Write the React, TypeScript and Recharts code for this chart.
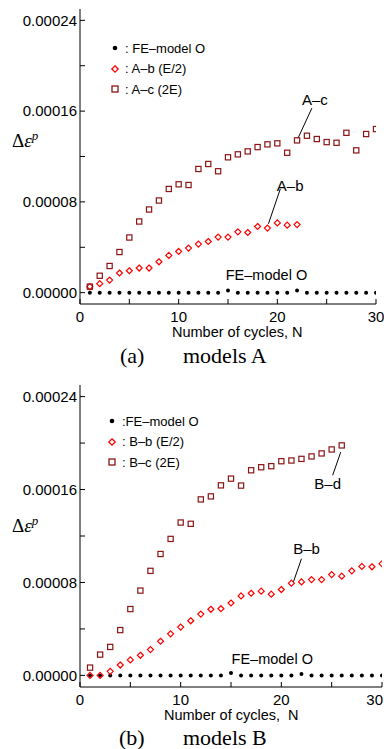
import React from "react"
import {
  ScatterChart,
  Scatter,
  XAxis,
  YAxis,
  ReferenceLine,
  ReferenceDot,
} from "recharts"

// cycle numbers N
const cycles = [1, 2, 3, 4, 5, 6, 7, 8, 9, 10, 11, 12, 13, 14, 15, 16, 17, 18, 19, 20, 21, 22, 23, 24, 25, 26, 27, 28, 29, 30]

// models A
const feA = [0, 0, 0, 0, 0, 0, 0, 0, 0, 0, 0, 0, 0, 0, 0.000002, 0, 0, 0, 0, 0, 0, 0.000002, 0, 0, 0, 0, 0, 0, 0, 0]
const ab = [
  0.0000053, 0.0000079, 0.0000111, 0.0000173, 0.0000193, 0.0000217, 0.0000217, 0.0000272, 0.0000328, 0.0000363,
  0.0000393, 0.0000428, 0.0000451, 0.000049, 0.000049, 0.0000536, 0.000053, 0.0000583, 0.0000569, 0.0000615,
  0.0000595, 0.00006,
]
const ac = [
  0.0000053, 0.0000149, 0.0000235, 0.0000358, 0.0000486, 0.0000627, 0.0000733, 0.0000812, 0.0000914, 0.0000955,
  0.0000949, 0.000109, 0.0001134, 0.000107, 0.0001193, 0.0001219, 0.0001245, 0.0001283, 0.0001307, 0.0001316,
  0.0001233, 0.0001342, 0.0001383, 0.0001354, 0.0001327, 0.0001321, 0.0001409, 0.0001254, 0.0001398, 0.0001442,
]

// models B
const feB = [0, 0, 0, 0, 0, 0, 0, 0, 0, 0, 0, 0, 0, 0, 0.000002, 0, 0, 0, 0, 0, 0, 0.0000012, 0, 0, 0, 0, 0, 0, 0, 0]
const bb = [
  0, 0, 0.0000035, 0.0000089, 0.0000133, 0.0000173, 0.0000222, 0.0000294, 0.0000358, 0.0000416,
  0.000047, 0.0000528, 0.0000569, 0.0000574, 0.0000623, 0.0000684, 0.0000707, 0.0000725, 0.0000699, 0.0000739,
  0.0000794, 0.0000805, 0.0000825, 0.0000825, 0.0000868, 0.0000854, 0.00009, 0.0000938, 0.0000935, 0.0000961,
]
const bc = [
  0.0000067, 0.0000179, 0.0000245, 0.000039, 0.0000571, 0.000073, 0.00009, 0.0001045, 0.0001175, 0.0001316,
  0.0001305, 0.0001515, 0.0001541, 0.0001636, 0.0001694, 0.0001634, 0.0001766, 0.0001792, 0.0001801, 0.0001844,
  0.000185, 0.0001864, 0.0001885, 0.0001911, 0.0001945, 0.000198,
]

const xTicks = [0, 5, 10, 15, 20, 25, 30]
const xLabels = [0, 10, 20, 30]
const yTicks = [0, 0.00004, 0.00008, 0.00012, 0.00016, 0.0002, 0.00024]
const yLabels = [0, 0.00008, 0.00016, 0.00024]

const SANS = "'Liberation Sans', Arial, sans-serif"
const SERIF = "'Liberation Serif', 'Times New Roman', serif"
const RED = "#ff0000"
const DARK = "#8b1414"

const toPts = (vals: number[]) => vals.map((v, i) => ({ x: cycles[i], y: v }))

// eslint-disable-next-line @typescript-eslint/no-explicit-any
const DotShape = ({ cx, cy }: any) => <circle cx={cx} cy={cy} r={2} fill="#000" />
// eslint-disable-next-line @typescript-eslint/no-explicit-any
const DiamondShape = ({ cx, cy }: any) => (
  <path
    d={`M${cx},${cy - 3}L${cx + 3},${cy}L${cx},${cy + 3}L${cx - 3},${cy}Z`}
    fill="none"
    stroke={RED}
    strokeWidth={1.2}
  />
)
// eslint-disable-next-line @typescript-eslint/no-explicit-any
const SquareShape = ({ cx, cy }: any) => (
  <rect x={cx - 2.6} y={cy - 2.6} width={5.2} height={5.2} fill="none" stroke={DARK} strokeWidth={1.2} />
)

// bottom tick labels; the last one is pulled in so it stays on the page
// eslint-disable-next-line @typescript-eslint/no-explicit-any
const XTick = ({ x, y, payload, tight }: any) => {
  const v = payload.value
  if (!xLabels.includes(v)) return null
  const atEdge = tight && v === 30
  return (
    <text
      x={atEdge ? 383 : x}
      y={y}
      dy="0.71em"
      textAnchor={atEdge ? "end" : "middle"}
      fontSize={15}
      fontFamily={SANS}
      fill="#000"
    >
      {v}
    </text>
  )
}

interface Note {
  text: string
  tx: number
  ty: number
  line?: [number, number, number, number]
  size: number
}

interface PanelProps {
  fe: number[]
  b: number[]
  c: number[]
  notes: Note[]
  marginTop: number
  marginRight: number
  xAxisHeight: number
  tight?: boolean
}

const fmtY = (v: number) => (yLabels.some((l) => Math.abs(l - v) < 1e-9) ? v.toFixed(5) : "")

function Panel({ fe, b, c, notes, marginTop, marginRight, xAxisHeight, tight }: PanelProps) {
  const axisStyle = { stroke: "#000", strokeWidth: 1 }
  return (
    <ScatterChart width={384} height={340} margin={{ top: marginTop, right: marginRight, bottom: 0, left: 0 }}>
      <XAxis
        dataKey="x"
        type="number"
        domain={[0, 30]}
        ticks={xTicks}
        interval={0}
        tickSize={-5}
        tickMargin={12}
        height={xAxisHeight}
        axisLine={axisStyle}
        tickLine={axisStyle}
        tick={<XTick tight={tight} />}
        allowDataOverflow
      />
      <XAxis
        xAxisId="t"
        orientation="top"
        type="number"
        domain={[0, 30]}
        ticks={xTicks}
        interval={0}
        tickFormatter={() => ""}
        tickSize={-5}
        height={0}
        axisLine={axisStyle}
        tickLine={axisStyle}
      />
      <YAxis
        dataKey="y"
        type="number"
        domain={[-0.00001, 0.00025]}
        ticks={yTicks}
        interval={0}
        tickFormatter={fmtY}
        tickSize={-5}
        tickMargin={8}
        width={80}
        axisLine={axisStyle}
        tickLine={axisStyle}
        tick={{ fontSize: 15, fill: "#000", fontFamily: SANS }}
        allowDataOverflow
      />
      <YAxis
        yAxisId="r"
        orientation="right"
        type="number"
        domain={[-0.00001, 0.00025]}
        ticks={yTicks}
        interval={0}
        tickFormatter={() => ""}
        tickSize={-5}
        width={0}
        axisLine={axisStyle}
        tickLine={axisStyle}
      />
      {notes.map((n) =>
        n.line ? (
          <ReferenceLine
            key={n.text + "l"}
            segment={[
              { x: n.line[0], y: n.line[1] },
              { x: n.line[2], y: n.line[3] },
            ]}
            stroke="#000"
            strokeWidth={1}
          />
        ) : null
      )}
      {notes.map((n) => (
        <ReferenceDot
          key={n.text}
          x={n.tx}
          y={n.ty}
          r={1}
          fill="none"
          stroke="none"
          label={{ value: n.text, position: "center", fill: "#000", fontSize: n.size, fontFamily: SANS }}
        />
      ))}
      <Scatter data={toPts(fe)} shape={<DotShape />} isAnimationActive={false} />
      <Scatter data={toPts(b)} shape={<DiamondShape />} isAnimationActive={false} />
      <Scatter data={toPts(c)} shape={<SquareShape />} isAnimationActive={false} />
    </ScatterChart>
  )
}

function LegendBox({ left, top, labels }: { left: number; top: number; labels: string[] }) {
  const icons = [
    <circle key="d" cx={5} cy={5} r={2.3} fill="#000" />,
    <path key="m" d="M5,1.8L8.2,5L5,8.2L1.8,5Z" fill="none" stroke={RED} strokeWidth={1.3} />,
    <rect key="s" x={2} y={2} width={6} height={6} fill="none" stroke={DARK} strokeWidth={1.3} />,
  ]
  return (
    <>
      {labels.map((l, i) => (
        <div
          key={l}
          style={{
            position: "absolute",
            left,
            top: top + i * 20.5 - 7,
            height: 14,
            display: "flex",
            alignItems: "center",
            fontFamily: SANS,
            fontSize: 13,
            whiteSpace: "pre",
          }}
        >
          <svg width={10} height={10} style={{ marginRight: 5 }}>
            {icons[i]}
          </svg>
          {l}
        </div>
      ))}
    </>
  )
}

function YLabel({ top }: { top: number }) {
  return (
    <div style={{ position: "absolute", left: 12, top, fontFamily: SERIF, fontSize: 19, lineHeight: 1, whiteSpace: "pre" }}>
      Δ<i>ε</i>
      <sup style={{ fontSize: 13, fontStyle: "italic", verticalAlign: 7 }}>p</sup>
    </div>
  )
}

const notesA: Note[] = [
  { text: "A–c", tx: 23.8, ty: 0.0001705, line: [23.5, 0.0001626, 22.1, 0.0001362], size: 15 },
  { text: "A–b", tx: 21.3, ty: 0.000094, line: [20.3, 0.0000914, 19.1, 0.0000607], size: 15 },
  { text: "FE–model O", tx: 18.9, ty: 0.0000158, size: 14.5 },
]

const notesB: Note[] = [
  { text: "B–d", tx: 24.6, ty: 0.0001654, line: [25.9, 0.0001922, 25.1, 0.0001723], size: 15 },
  { text: "B–b", tx: 22.5, ty: 0.0001091, line: [22.0, 0.0001004, 21.2, 0.0000805], size: 15 },
  { text: "FE–model O", tx: 19.1, ty: 0.0000139, size: 14.5 },
]

export default function App() {
  return (
    <div style={{ position: "relative", width: 384, height: 749, overflow: "hidden", background: "#fff" }}>
      <style>{`body{margin:0}`}</style>
      <div style={{ position: "absolute", left: 0, top: 0 }}>
        <Panel fe={feA} b={ab} c={ac} notes={notesA} marginTop={9} marginRight={8} xAxisHeight={36} />
      </div>
      <div style={{ position: "absolute", left: 0, top: 370 }}>
        <Panel fe={feB} b={bb} c={bc} notes={notesB} marginTop={15} marginRight={2} xAxisHeight={23} tight />
      </div>

      <LegendBox left={110} top={48} labels={[": FE–model O", ": A–b (E/2)", ": A–c (2E)"]} />
      <LegendBox left={107} top={421} labels={[":FE–model O", ": B–b (E/2)", ": B–c (2E)"]} />

      <YLabel top={129} />
      <YLabel top={514} />

      <div style={{ position: "absolute", left: 172, top: 325, fontFamily: SANS, fontSize: 14.5, lineHeight: 1, whiteSpace: "pre" }}>
        Number of cycles, N
      </div>
      <div style={{ position: "absolute", left: 164, top: 708, fontFamily: SANS, fontSize: 14.5, lineHeight: 1, whiteSpace: "pre" }}>
        Number of cycles,  N
      </div>

      <div style={{ position: "absolute", left: 120, top: 345, fontFamily: SERIF, fontSize: 22, lineHeight: 1 }}>(a)</div>
      <div style={{ position: "absolute", left: 183, top: 345, fontFamily: SERIF, fontSize: 22, lineHeight: 1 }}>models A</div>
      <div style={{ position: "absolute", left: 119, top: 727, fontFamily: SERIF, fontSize: 22, lineHeight: 1 }}>(b)</div>
      <div style={{ position: "absolute", left: 183, top: 727, fontFamily: SERIF, fontSize: 22, lineHeight: 1 }}>models B</div>
    </div>
  )
}
